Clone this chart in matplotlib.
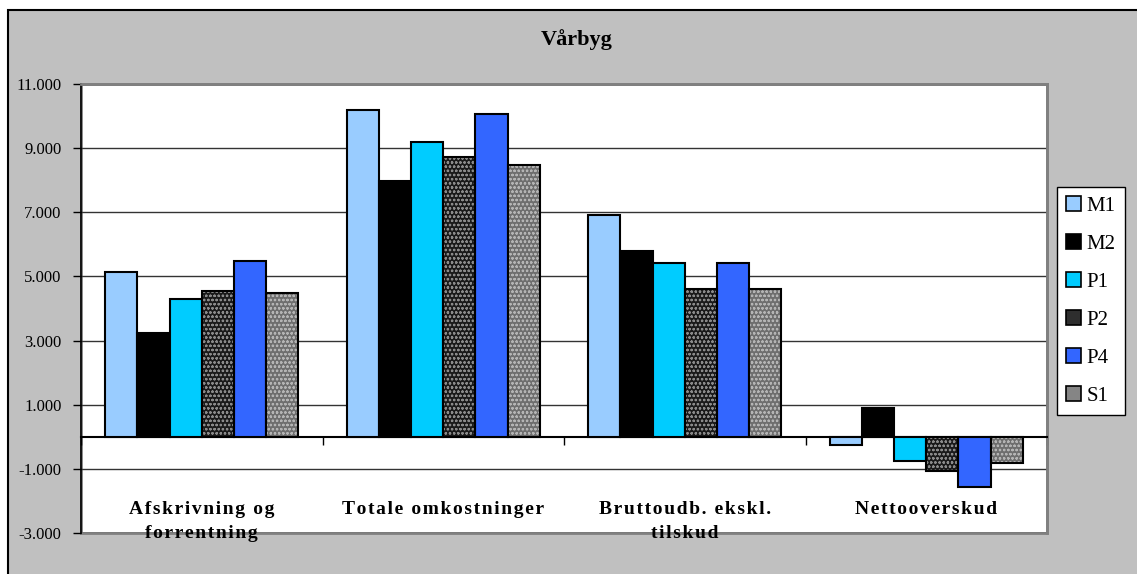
import numpy as np
import matplotlib
matplotlib.use("Agg")
import matplotlib.pyplot as plt
from matplotlib.patches import Rectangle, Patch
from matplotlib.ticker import FuncFormatter

plt.rcParams['font.family'] = ['Liberation Serif', 'DejaVu Serif']
plt.rcParams['hatch.linewidth'] = 0.6

# data
categories = ["Afskrivning og\nforrentning", "Totale omkostninger",
              "Bruttoudb. ekskl.\ntilskud", "Nettooverskud"]
series = ["M1", "M2", "P1", "P2", "P4", "S1"]
M1 = [5150, 10190, 6920, -250]
M2 = [3250, 7990, 5790, 900]
P1 = [4290, 9200, 5410, -760]
P2 = [4550, 8720, 4600, -1070]
P4 = [5470, 10070, 5410, -1580]
S1 = [4480, 8460, 4600, -810]
values = [M1, M2, P1, P2, P4, S1]

yticks = [-3000, -1000, 1000, 3000, 5000, 7000, 9000, 11000]

# style per series: face, hatch, hatch colour, legend colour
faces = ["#99ccff", "#000000", "#00ccff", "#1a1a1a", "#3366ff", "#6e6e6e"]
hatches = [None, None, None, "oooo", None, "oooo"]
hatch_cols = [None, None, None, "#8a8a8a", None, "#b4b4b4"]
legend_cols = ["#99ccff", "#000000", "#00ccff", "#2e2e2e", "#3366ff", "#858585"]


def spaced(s):
    # the original labels are letter-spaced
    return "\n".join("\u200a".join(line) for line in s.split("\n"))


fig = plt.figure(figsize=(11.37, 5.74), dpi=100, facecolor="white")
fig.add_artist(Rectangle((8 / 1137, -0.02), 1.0, 1 - 10 / 574 + 0.02,
                         transform=fig.transFigure, facecolor="#c0c0c0",
                         edgecolor="black", linewidth=1.5, zorder=-10))

ax = fig.add_axes([81 / 1137, 41 / 574, 966 / 1137, 449 / 574])
ax.set_facecolor("white")

x = np.arange(len(categories))
n = len(series)
group_w = 0.8
w = group_w / n
for i, (name, vals) in enumerate(zip(series, values)):
    pos = x - group_w / 2 + w * (i + 0.5)
    if hatches[i]:
        ax.bar(pos, vals, w, color=faces[i], edgecolor=hatch_cols[i],
               hatch=hatches[i], linewidth=0, zorder=3)
        ax.bar(pos, vals, w, fill=False, edgecolor="black", linewidth=1.5, zorder=4)
    else:
        ax.bar(pos, vals, w, color=faces[i], edgecolor="black", linewidth=1.5, zorder=3)

ax.set_xlim(-0.5, len(categories) - 0.5)
ax.set_ylim(-3000, 11000)
ax.set_yticks(yticks)
ax.yaxis.set_major_formatter(FuncFormatter(lambda v, p: f"{v:,.0f}".replace(",", ".")))
ax.tick_params(axis="y", direction="out", length=6, width=1, labelsize=12, pad=8)
ax.yaxis.grid(True, color="#333333", linewidth=1)
ax.set_axisbelow(True)

# category axis sits on zero with boundary ticks
ax.spines["bottom"].set_position(("data", 0))
ax.spines["bottom"].set_linewidth(1.5)
ax.set_xticks(np.arange(len(categories) + 1) - 0.5)
ax.set_xticklabels([])
ax.tick_params(axis="x", direction="out", length=6, width=1)
ax.spines["left"].set_linewidth(1.2)
for s in ["top", "right"]:
    ax.spines[s].set_color("#808080")
    ax.spines[s].set_linewidth(2)
ax.add_patch(Rectangle((0, 0), 1, 1, transform=ax.transAxes, fill=False,
                       edgecolor="#808080", linewidth=2, clip_on=False, zorder=0))

for xi, cat in zip(x, categories):
    ax.text(xi, 0.072, spaced(cat), transform=ax.get_xaxis_transform(), ha="center",
            va="top", fontsize=14, fontweight="bold", linespacing=1.55, clip_on=False)

fig.text(577 / 1137, 1 - 40 / 574, "Vårbyg", ha="center", va="center",
         fontsize=16, fontweight="bold")

handles = [Patch(facecolor=c, edgecolor="black", linewidth=1.2) for c in legend_cols]
leg = fig.legend(handles, series, loc="upper left",
                 bbox_to_anchor=(1057 / 1137, 1 - 187 / 574), borderaxespad=0,
                 fontsize=15, frameon=True, fancybox=False, framealpha=1,
                 edgecolor="black", handlelength=0.7, handleheight=0.7,
                 handletextpad=0.25, labelspacing=0.88, borderpad=0.45)
leg.get_frame().set_linewidth(1)

fig.savefig("out.png", dpi=100, facecolor=fig.get_facecolor())
